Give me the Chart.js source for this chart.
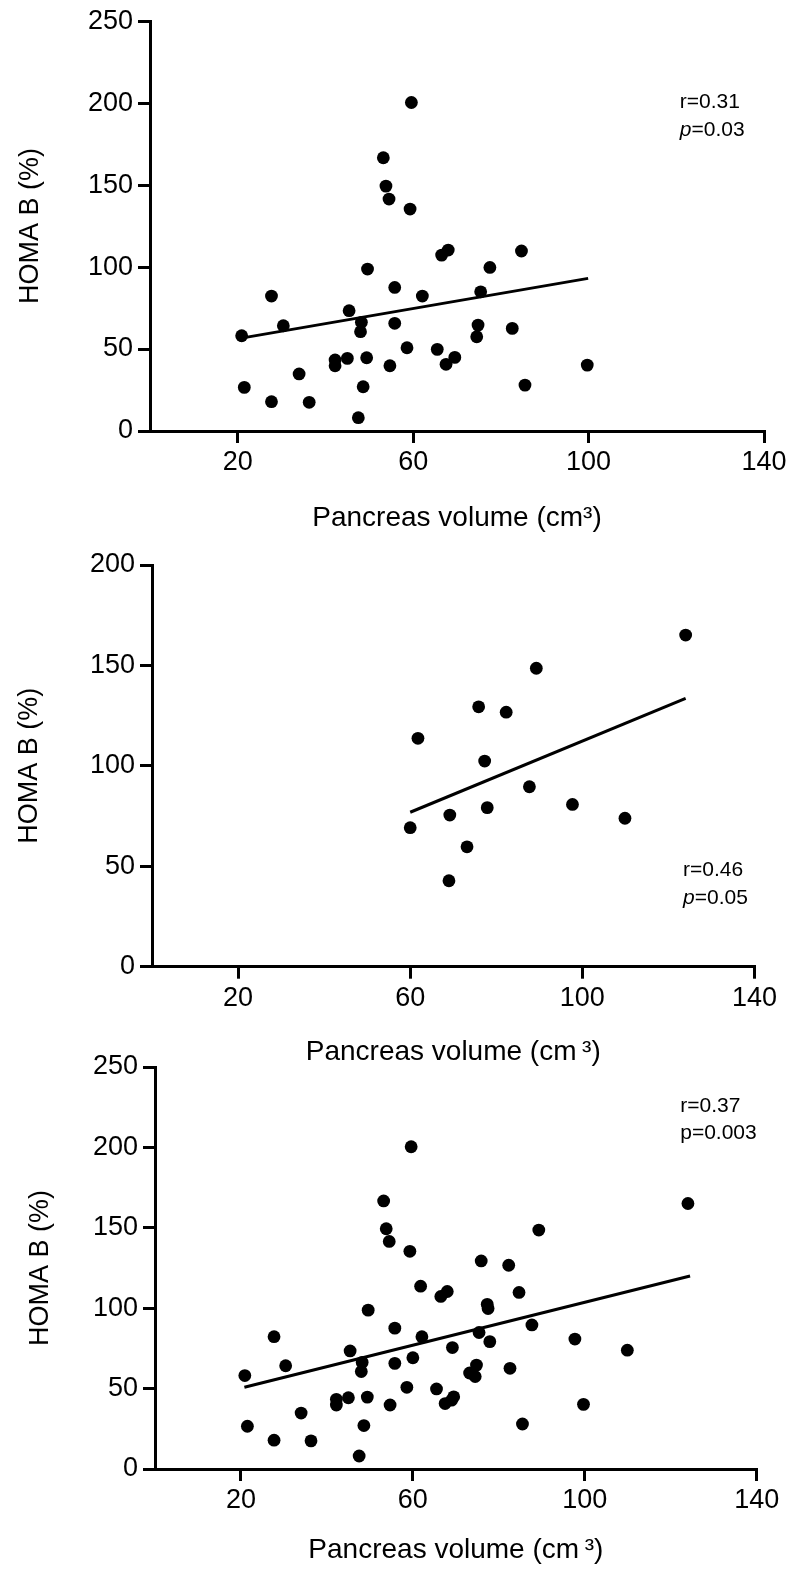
<!DOCTYPE html>
<html>
<head>
<meta charset="utf-8">
<script src="https://cdn.jsdelivr.net/npm/chart.js"></script>
<style>
  body { margin: 0; background: #fff; }
  #wrap { position: relative; width: 791px; height: 1570px; }
  #wrap canvas { position: absolute; left: 0; }
</style>
</head>
<body>
<div id="wrap">
  <canvas id="chart1" width="791" height="545" style="top:0px"></canvas>
  <canvas id="chart2" width="791" height="545" style="top:535px"></canvas>
  <canvas id="chart3" width="791" height="530" style="top:1040px"></canvas>
</div>
<script>
// values
// top panel (group A)
var volA  = [59.6, 53.2, 53.8, 54.5, 59.3, 66.5, 68.0, 84.7, 77.5, 55.8,
             62.1, 75.4, 55.8, 74.8, 74.5, 82.6, 58.6, 65.5, 69.5, 67.5,
             54.7, 99.7, 85.5, 20.9, 27.7, 30.4, 49.6, 45.4, 48.2, 48.0,
             42.2, 42.2, 45.0, 49.4, 34.0, 21.5, 48.6, 27.7, 36.3, 47.5];
var homaA = [200.4, 166.7, 149.4, 141.5, 135.4, 107.3, 110.4, 109.8, 99.8, 87.6,
             82.3, 84.9, 65.7, 64.6, 57.5, 62.6, 50.8, 49.8, 44.9, 40.7,
             39.8, 40.2, 28.0, 58.1, 82.3, 64.2, 98.8, 73.4, 66.3, 60.6,
             43.3, 39.8, 44.3, 44.7, 34.8, 26.6, 27.0, 17.9, 17.5, 8.1];
// middle panel (group B)
var volB  = [124.0, 89.3, 75.9, 82.3, 61.8, 77.3, 87.7, 97.7, 109.9, 77.9, 69.2, 60.0, 73.2, 69.0];
var homaB = [165.1, 148.6, 129.4, 126.7, 113.7, 102.4, 89.6, 80.8, 73.9, 79.2, 75.5, 69.2, 59.7, 42.8];
// bottom panel = both groups together
var volAll  = volA.concat(volB);
var homaAll = homaA.concat(homaB);

// regression lines (end points)
var fitVolA = [20.5, 99.9],  fitHomaA = [56.5, 93.1];
var fitVolB = [60.0, 124.0], fitHomaB = [76.9, 133.6];
var fitVolAll = [20.8, 124.5], fitHomaAll = [50.8, 120.0];

var xTicks = [20, 60, 100, 140];
var yTicks250 = [0, 50, 100, 150, 200, 250];
var yTicks200 = [0, 50, 100, 150, 200];

var statsA = ['r=0.31', 'p=0.03'];
var statsB = ['r=0.46', 'p=0.05'];
var statsAll = ['r=0.37', 'p=0.003'];

Chart.defaults.font.family = '"Liberation Sans", Arial, sans-serif';
Chart.defaults.color = '#000';

function toPoints(xs, ys) {
  return xs.map(function (v, i) { return { x: v, y: ys[i] }; });
}

/**
 * one scatter panel with its fit line and r / p note
 */
function makePanel(id, xs, ys, fx, fy, yTicks, xTitle, stats, box) {
  var ctx = document.getElementById(id);

  var notePlugin = {
    id: 'note' + id,
    afterDraw: function (chart) {
      var c = chart.ctx;
      var x = chart.scales.x.getPixelForValue(box.noteX);
      c.save();
      c.fillStyle = '#000';
      c.textAlign = 'left';
      c.textBaseline = 'middle';
      for (var i = 0; i < stats.length; i++) {
        var y = chart.scales.y.getPixelForValue(box.noteY[i]);
        var txt = stats[i];
        var xx = x;
        if (i == 1 && box.italicP) {
          c.font = 'italic 21px "Liberation Sans", Arial';
          c.fillText('p', xx, y);
          xx += c.measureText('p').width;
          txt = txt.slice(1);
        }
        c.font = '21px "Liberation Sans", Arial';
        c.fillText(txt, xx, y);
      }
      c.restore();
    }
  };

  var axisGrid = { display: true, drawOnChartArea: false, drawTicks: true, tickLength: 12, color: '#000', lineWidth: 3 };
  var axisBorder = { display: true, color: '#000', width: 3 };

  return new Chart(ctx, {
    type: 'scatter',
    data: {
      datasets: [{
        data: toPoints(xs, ys),
        backgroundColor: '#000',
        borderColor: '#000',
        pointRadius: 6.4,
        pointBorderWidth: 0
      }, {
        data: toPoints(fx, fy),
        showLine: true,
        borderColor: '#000',
        borderWidth: 3,
        pointRadius: 0,
        fill: false
      }]
    },
    options: {
      responsive: false,
      animation: false,
      layout: { padding: { top: box.top, right: box.right, bottom: 0, left: 0 } },
      plugins: { legend: { display: false }, tooltip: { enabled: false } },
      scales: {
        x: {
          type: 'linear',
          min: 0,
          max: 140,
          afterBuildTicks: function (s) { s.ticks = xTicks.map(function (v) { return { value: v }; }); },
          afterFit: function (s) { s.height = box.xHeight; },
          ticks: { font: { size: 27 }, padding: 3.5, maxRotation: 0, autoSkip: false },
          grid: axisGrid,
          border: axisBorder,
          title: { display: true, text: xTitle, font: { size: 28 }, padding: { top: 0, bottom: box.xTitlePad } }
        },
        y: {
          type: 'linear',
          min: 0,
          max: yTicks[yTicks.length - 1],
          afterBuildTicks: function (s) { s.ticks = yTicks.map(function (v) { return { value: v }; }); },
          afterFit: function (s) { s.width = box.yWidth; },
          ticks: { font: { size: 27 }, padding: 5, autoSkip: false },
          grid: axisGrid,
          border: axisBorder,
          title: { display: true, text: 'HOMA B (%)', font: { size: 27 }, padding: { top: box.yTitlePad, bottom: 0 } }
        }
      }
    },
    plugins: [notePlugin]
  });
}

makePanel('chart1', volA, homaA, fitVolA, fitHomaA, yTicks250, 'Pancreas volume (cm\u00B3)', statsA,
  { top: 21, right: 27, xHeight: 114, yWidth: 150, xTitlePad: 10.4, yTitlePad: 14,
    noteX: 120.8, noteY: [200.8, 183.5], italicP: true });

makePanel('chart2', volB, homaB, fitVolB, fitHomaB, yTicks200, 'Pancreas volume (cm\u2009\u00B3)', statsB,
  { top: 30, right: 36.5, xHeight: 113.3, yWidth: 152, xTitlePad: 11.4, yTitlePad: 13,
    noteX: 123.4, noteY: [48.1, 34.1], italicP: true });

makePanel('chart3', volAll, homaAll, fitVolAll, fitHomaAll, yTicks250, 'Pancreas volume (cm\u2009\u00B3)', statsAll,
  { top: 27, right: 34.3, xHeight: 101, yWidth: 155, xTitlePad: 3.4, yTitlePad: 24,
    noteX: 122.2, noteY: [225.9, 208.8], italicP: false });
</script>
</body>
</html>
